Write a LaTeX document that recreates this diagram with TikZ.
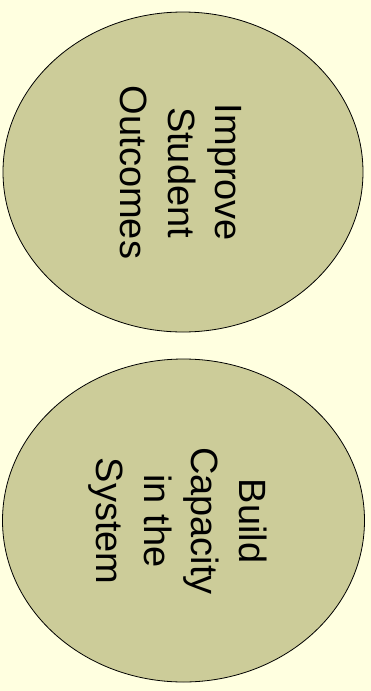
\documentclass[tikz,border=0pt]{standalone}
\usepackage{fontspec}
\setmainfont{Liberation Sans}
\usetikzlibrary{shapes.geometric}
\definecolor{bgyellow}{HTML}{FFFFE0}
\definecolor{goalfill}{HTML}{CCCC99}
\begin{document}
\begin{tikzpicture}[x=1pt,y=-1pt,
  goal/.style={ellipse, draw=black, line width=0.8pt, fill=goalfill, inner sep=0pt},
  goaltext/.style={rotate=-90, align=center, inner sep=0pt, text=black,
    font=\fontsize{38}{47.5}\selectfont}]
  \fill[bgyellow] (0,0) rectangle (371,691);
  \useasboundingbox (0,0) rectangle (371,691);
  \node[goal, minimum width=360pt, minimum height=320pt] (g1) at (183,172) {};
  \node[goal, minimum width=362pt, minimum height=323pt] (g2) at (183.5,520.5) {};
  \node[goaltext] (t1) at (181,172.5) {Improve\\Student\\Outcomes};
  \node[goaltext] (t2) at (178,521) {Build\\Capacity\\in the\\System};
\end{tikzpicture}
\end{document}
